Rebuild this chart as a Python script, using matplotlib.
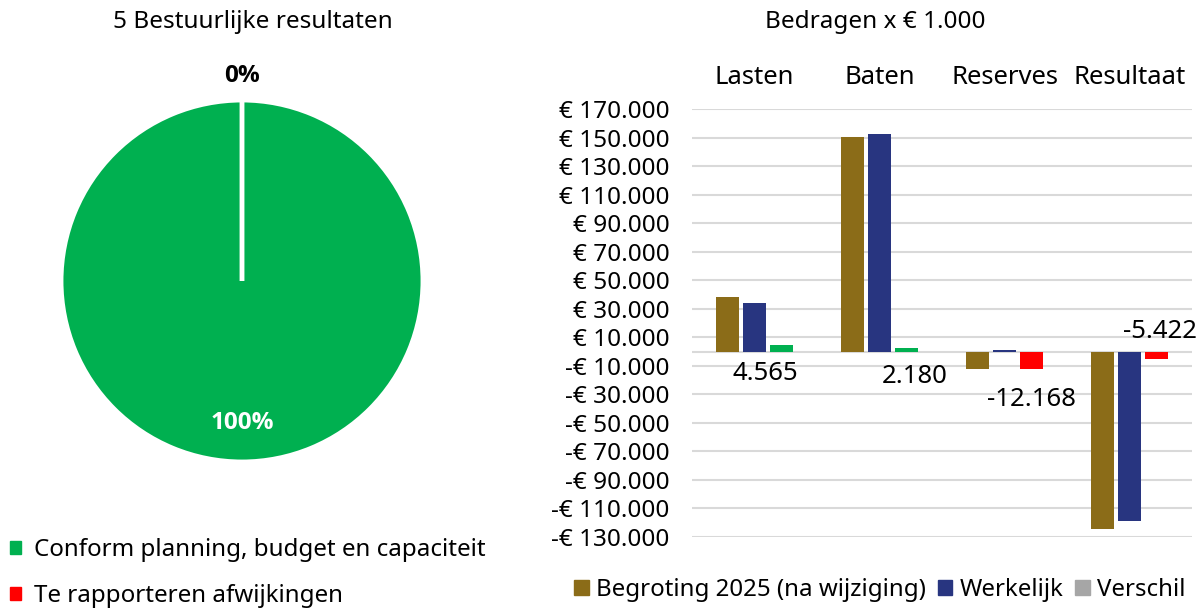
import matplotlib
matplotlib.use("Agg")
import matplotlib.pyplot as plt
from matplotlib.patches import Patch
from matplotlib.ticker import FuncFormatter
import numpy as np

plt.rcParams['font.family'] = ['Noto Sans', 'DejaVu Sans']

# ---- data ----
pie_labels = ["Conform planning, budget en capaciteit", "Te rapporteren afwijkingen"]
pie_values = [100, 0]
pie_pct = ["100%", "0%"]

categories = ["Lasten", "Baten", "Reserves", "Resultaat"]
begroting = [38500, 150400, -11900, -124400]
werkelijk = [33935, 152580, 900, -118800]
verschil = [4565, 2180, -12168, -5422]
verschil_labels = ["4.565", "2.180", "-12.168", "-5.422"]
yticks = list(range(-130000, 170001, 20000))

C_GOLD = "#8B6C18"
C_BLUE = "#283580"
C_GREEN = "#00B050"
C_RED = "#FF0000"
C_GRAY = "#A6A6A6"
C_GRID = "#D9D9D9"

fig = plt.figure(figsize=(12.04, 6.08), dpi=100)
W, H = 1204, 608

# ---- pie ----
cx, cy, r = 242, 281, 181
axp = fig.add_axes([(cx - r) / W, 1 - (cy + r) / H, 2 * r / W, 2 * r / H])
wedges, _ = axp.pie(pie_values, colors=[C_GREEN, C_RED], startangle=90, counterclock=False,
                    wedgeprops=dict(edgecolor="white", linewidth=3.5))
axp.set_xlim(-1, 1); axp.set_ylim(-1, 1)
axp.set_aspect("auto")
dists = [0.785, 1.13]
colors_txt = ["white", "black"]
for w, t, d, c in zip(wedges, pie_pct, dists, colors_txt):
    ang = np.deg2rad((w.theta1 + w.theta2) / 2)
    axp.text(d * np.cos(ang), d * np.sin(ang), t, ha="center", va="center",
             fontsize=17.5, fontweight="bold", family=["Open Sans", "DejaVu Sans"],
             color=c, clip_on=False)
fig.text(253 / W, 1 - 22 / H, "5 Bestuurlijke resultaten", ha="center", va="center", fontsize=17.5)
handles_p = [Patch(color=C_GREEN), Patch(color=C_RED)]
fig.legend(handles_p, pie_labels, loc="upper left", bbox_to_anchor=(0.0, 1 - 528 / H),
           frameon=False, fontsize=17.4, handlelength=0.45, handleheight=0.45,
           handletextpad=0.55, labelspacing=0.92, borderaxespad=0)

# ---- bars ----
axb = fig.add_axes([692 / W, 1 - 537 / H, 500 / W, 428 / H])
x = np.arange(len(categories))
bw = 0.19
off = 0.216
vcolors = [C_GREEN if v >= 0 else C_RED for v in verschil]
axb.bar(x - off, begroting, bw, color=C_GOLD, zorder=3)
axb.bar(x, werkelijk, bw, color=C_BLUE, zorder=3)
bars_v = axb.bar(x + off, verschil, bw, color=vcolors, zorder=3)
axb.set_xlim(-0.5, len(categories) - 0.5)
axb.set_ylim(-130000, 170000)
axb.set_yticks(yticks)
axb.yaxis.set_major_formatter(FuncFormatter(
    lambda v, p: ("-€ " if v < 0 else "€ ") + f"{abs(int(v)):,}".replace(",", ".")))
axb.grid(axis="y", color=C_GRID, linewidth=1.5, zorder=0)
axb.axhline(0, color=C_GRID, linewidth=1.5, zorder=1)
for s in axb.spines.values():
    s.set_visible(False)
axb.tick_params(axis="y", length=0, labelsize=17.5, pad=16)
axb.xaxis.tick_top()
axb.set_xticks(x)
axb.set_xticklabels(categories, fontsize=18.5)
axb.tick_params(axis="x", length=0, pad=14)

label_offsets = [(-16, -21.5), (8, -24.5), (0, -48), (3, 20)]
for b, lab, (dx, dy) in zip(bars_v, verschil_labels, label_offsets):
    xc = b.get_x() + b.get_width() / 2
    axb.annotate(lab, (xc, 0), xytext=(dx * 0.72, dy * 0.72), textcoords="offset points",
                 ha="center", va="center", fontsize=18.5)

fig.text(875 / W, 1 - 22 / H, "Bedragen x € 1.000", ha="center", va="center", fontsize=17.5)
handles_b = [Patch(color=C_GOLD), Patch(color=C_BLUE), Patch(color=C_GRAY)]
fig.legend(handles_b, ["Begroting 2025 (na wijziging)", "Werkelijk", "Verschil"],
           loc="center", bbox_to_anchor=(880 / W, 1 - 590 / H), ncol=3, frameon=False,
           fontsize=17.3, handlelength=0.6, handleheight=0.6, handletextpad=0.3,
           columnspacing=0.5, borderaxespad=0)

fig.savefig("out.png", dpi=100)
